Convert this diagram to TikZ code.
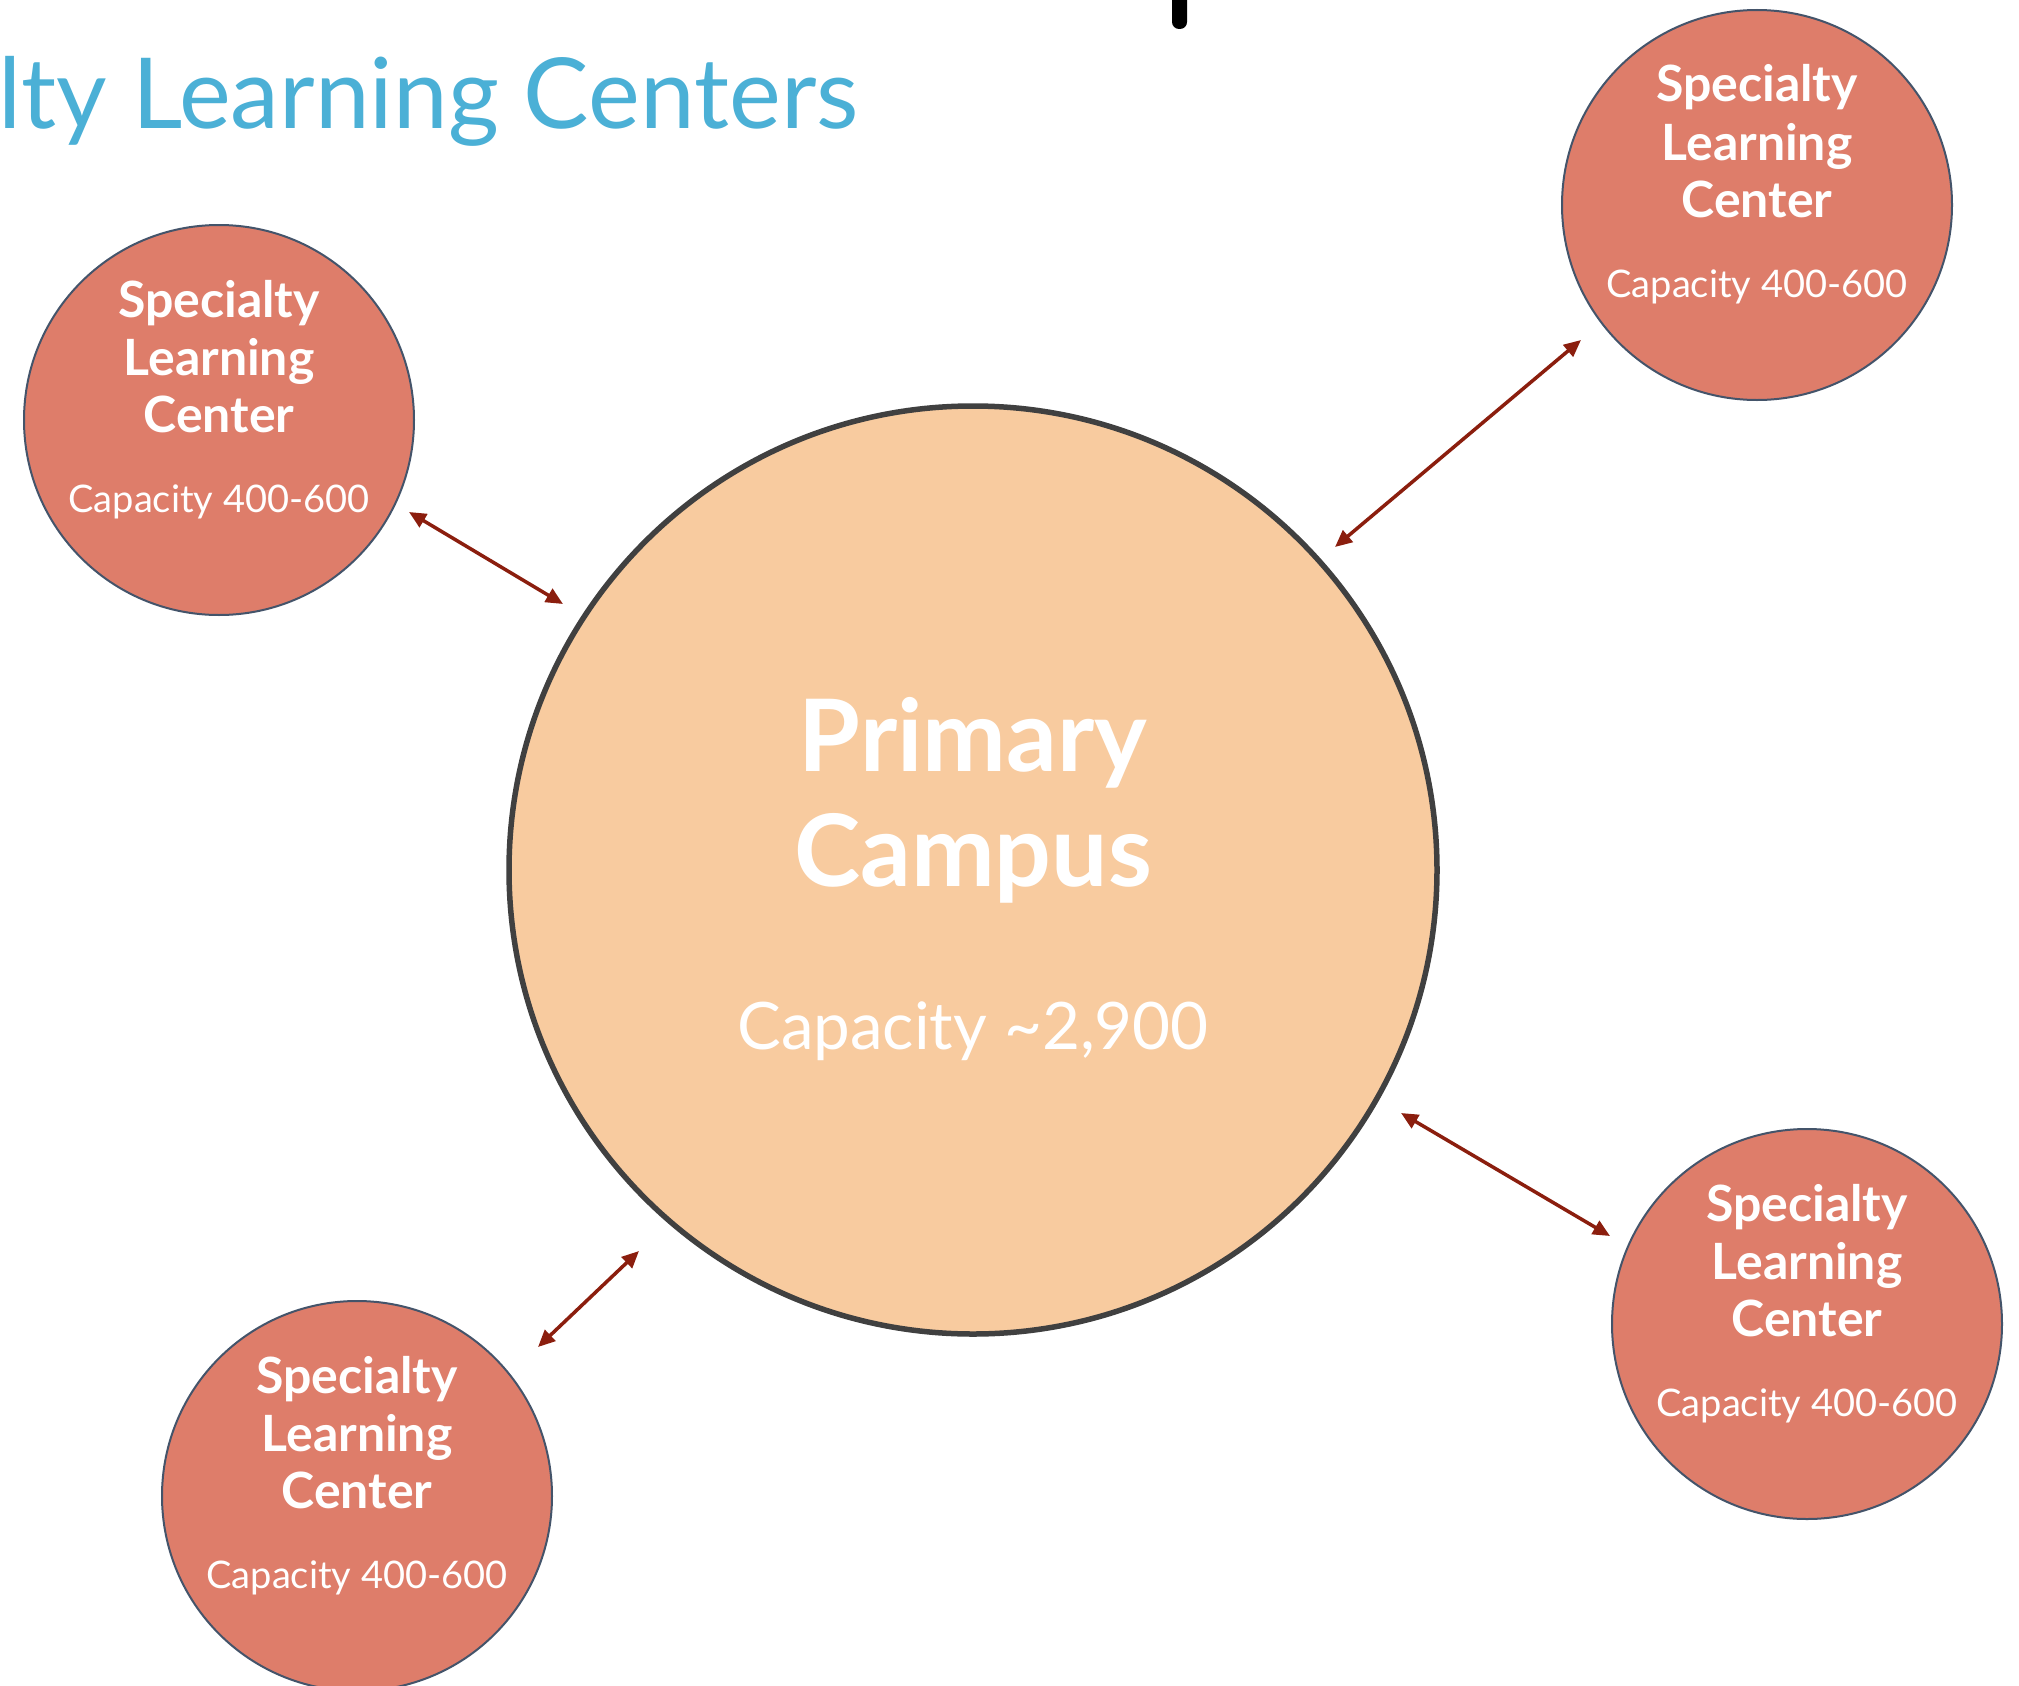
\documentclass[tikz,border=0pt]{standalone}
\usepackage{fontspec}
\setmainfont{Lato}
\usetikzlibrary{arrows.meta}
\definecolor{mainfill}{HTML}{F8CB9F}
\definecolor{mainedge}{HTML}{404040}
\definecolor{slcfill}{HTML}{DE7D6A}
\definecolor{slcedge}{HTML}{44546A}
\definecolor{arrowred}{HTML}{8B1E0E}
\definecolor{titleblue}{HTML}{4BB0D6}
\tikzset{
  maincircle/.style={circle, fill=mainfill, draw=mainedge, line width=5.5pt, minimum size=928pt, inner sep=0pt},
  slccircle/.style={circle, fill=slcfill, draw=slcedge, line width=2pt, minimum size=390pt, inner sep=0pt},
  bigbold/.style={anchor=base, text=white, font=\fontsize{100}{100}\selectfont\bfseries, inner sep=0pt},
  bigcap/.style={anchor=base, text=white, font=\fontsize{65.5}{65.5}\selectfont, inner sep=0pt},
  slcbold/.style={anchor=base, text=white, font=\fontsize{50}{50}\selectfont\bfseries, inner sep=0pt},
  slccap/.style={anchor=base, text=white, font=\fontsize{38}{38}\selectfont, inner sep=0pt},
  link/.style={draw=arrowred, line width=3.5pt, {Triangle[length=17pt,width=15pt]}-{Triangle[length=17pt,width=15pt]}}
}
\begin{document}
\begin{tikzpicture}[x=1pt, y=-1pt]
\useasboundingbox (0,0) rectangle (2019,1686);
\clip (0,0) rectangle (2019,1686);
\fill[white] (0,0) rectangle (2019,1686);

% cut-off heading fragment
\fill[black, rounded corners=7pt] (1172,-12) rectangle (1187,29);

% subtitle
\node[anchor=base west, text=titleblue, font=\fontsize{98}{98}\selectfont, inner sep=0pt] (subtitle) at (-2,128) {lty Learning Centers};

% main circle
\node[maincircle] (main) at (973,870) {};
\node[bigbold] (mainA) at ([yshift=99pt]main.center) {Primary};
\node[bigbold] (mainB) at ([yshift=-16pt]main.center) {Campus};
\node[bigcap] (mainC) at ([yshift=-179pt]main.center) {Capacity \textasciitilde2,900};

% specialty circles
\foreach \n/\x/\y in {tl/219/420, tr/1757/205, bl/357/1496, br/1807/1324}{
  \node[slccircle] (\n) at (\x,\y) {};
  \node[slcbold] (\n A) at ([yshift=103pt]\n.center) {Specialty};
  \node[slcbold] (\n B) at ([yshift=45pt]\n.center) {Learning};
  \node[slcbold] (\n C) at ([yshift=-12pt]\n.center) {Center};
  \node[slccap] (\n D) at ([yshift=-92pt]\n.center) {Capacity 400-600};
}

% connector end points
\coordinate (tlA) at (409,512);
\coordinate (tlB) at (563,604);
\coordinate (trA) at (1335,547);
\coordinate (trB) at (1581,340);
\coordinate (brA) at (1401,1113);
\coordinate (brB) at (1610,1236);
\coordinate (blA) at (538,1347);
\coordinate (blB) at (639,1251);

\draw[link] (tlA) -- (tlB);
\draw[link] (trA) -- (trB);
\draw[link] (brA) -- (brB);
\draw[link] (blA) -- (blB);
\end{tikzpicture}
\end{document}
